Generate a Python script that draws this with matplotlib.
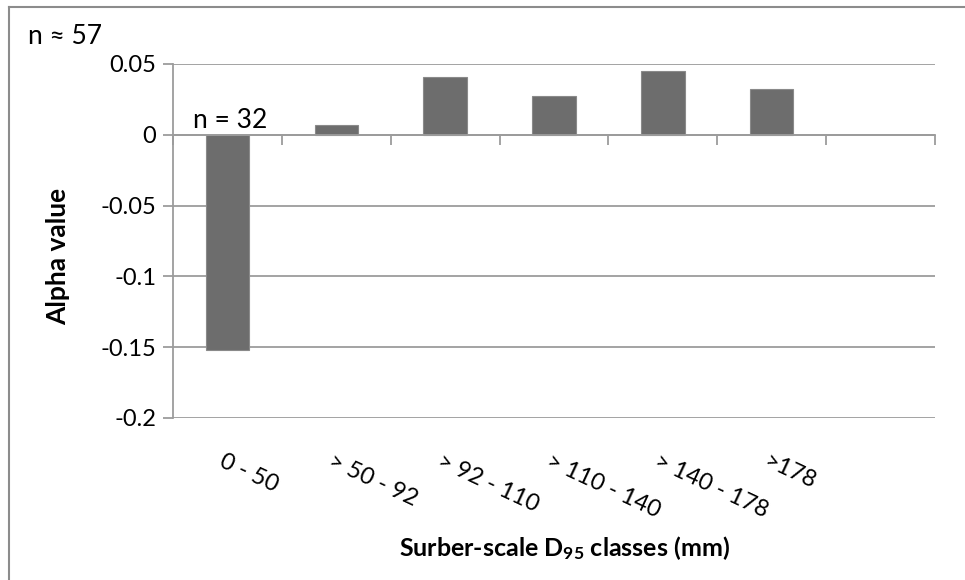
import numpy as np
import matplotlib
matplotlib.use("Agg")
import matplotlib.pyplot as plt
import matplotlib.transforms as mtransforms
from matplotlib.lines import Line2D

plt.rcParams['font.family'] = ['Lato', 'DejaVu Sans']
# only the x-axis title uses mathtext (for the subscript), so make it bold
plt.rcParams['mathtext.fontset'] = 'custom'
plt.rcParams['mathtext.rm'] = 'Lato:bold'
plt.rcParams['mathtext.it'] = 'Lato:bold'
plt.rcParams['mathtext.bf'] = 'Lato:bold'

# data
categories = ['0 - 50', '> 50 - 92', '> 92 - 110', '> 110 - 140', '> 140 - 178', '>178']
alpha_values = [-0.152, 0.0066, 0.0405, 0.0272, 0.045, 0.032]
y_ticks = [-0.2, -0.15, -0.1, -0.05, 0, 0.05]
y_tick_labels = ['-0.2', '-0.15', '-0.1', '-0.05', '0', '0.05']
n_slots = 7  # Excel left an empty slot on the right

grid_col = '#9c9c9c'
bar_col = '#6d6d6d'

fig = plt.figure(figsize=(9.65, 5.8), dpi=100)
W, H = 965, 580
ax = fig.add_axes([173 / W, 1 - 418 / H, (935 - 173) / W, (418 - 64) / H])

x = np.arange(len(categories))
ax.bar(x, alpha_values, width=0.4, color=bar_col, edgecolor='#8a8a8a',
       linewidth=0.8, zorder=3)

ax.set_xlim(-0.5, n_slots - 0.5)
ax.set_ylim(y_ticks[0], y_ticks[-1])
ax.set_yticks(y_ticks)
ax.set_yticklabels(y_tick_labels)
ax.yaxis.grid(True, color=grid_col, linewidth=1.3, zorder=0)
ax.set_axisbelow(True)

for side in ['top', 'right']:
    ax.spines[side].set_visible(False)
ax.spines['left'].set_color(grid_col)
ax.spines['left'].set_linewidth(1.3)
ax.spines['bottom'].set_position(('data', 0))
ax.spines['bottom'].set_color(grid_col)
ax.spines['bottom'].set_linewidth(1.3)
ax.spines['bottom'].set_zorder(4)

ax.set_xticks(np.arange(-0.5, n_slots, 1))
ax.set_xticklabels([])
ax.tick_params(axis='x', direction='out', length=7, width=1.3, color=grid_col)
ax.tick_params(axis='y', direction='out', length=7, width=1.3, color=grid_col,
               labelsize=17, pad=5)

# rotated category labels below the plot area
trans = mtransforms.blended_transform_factory(ax.transData, ax.transAxes)
for i, lab in enumerate(categories):
    ax.text(i - 0.02, -0.092, lab, transform=trans, rotation=-25, rotation_mode='anchor',
            ha='left', va='top', fontsize=17, clip_on=False)

ax.text(-0.316, 0.005, 'n = 32', fontsize=19, ha='left', va='baseline')
fig.text(28 / W, 1 - 36 / H, 'n \u2248 57', fontsize=19, ha='left', va='center')

fig.text(564 / W, 1 - 548 / H, r'Surber-scale D$_{95}$ classes (mm)',
         fontsize=18, fontweight='bold', ha='center', va='center')
fig.text(58 / W, 1 - 256 / H, 'Alpha value', fontsize=19, fontweight='bold',
         rotation=90, ha='center', va='center')

# chart-area frame (only left and top edges visible in the crop)
fig.add_artist(Line2D([9 / W, 9 / W], [0, 1 - 7 / H], color='#8c8c8c', lw=1.5))
fig.add_artist(Line2D([9 / W, 1], [1 - 7 / H, 1 - 7 / H], color='#8c8c8c', lw=1.5))

fig.savefig('out.png', dpi=100, facecolor='white')
